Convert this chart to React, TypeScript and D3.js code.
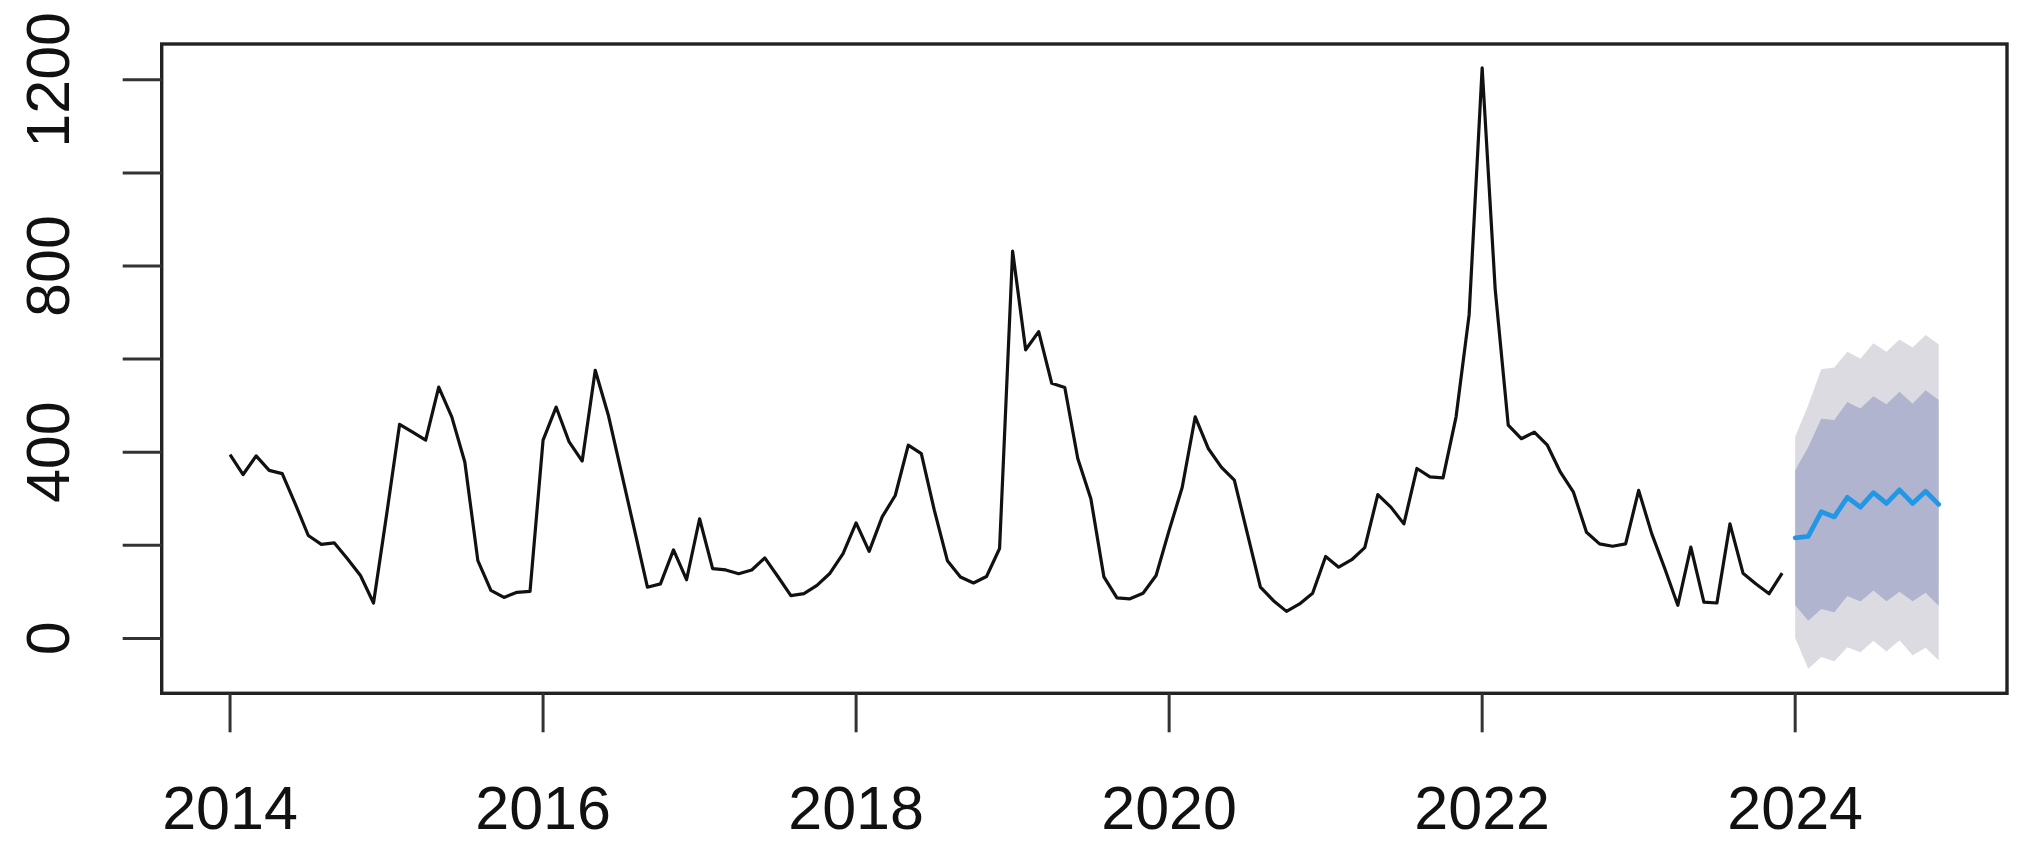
import React from "react";
import * as d3 from "d3";

// Monthly observations Jan 2014 .. Dec 2023
const startYear = 2014;
const observed: number[] = [
  395, 352, 392, 361, 354, 289, 221, 202, 205, 171, 135, 76,
  265, 460, 443, 426, 540, 476, 379, 167, 103, 88, 99, 101,
  426, 497, 422, 381, 576, 480, 357, 234, 110, 117, 190, 126,
  257, 150, 147, 139, 147, 173, 133, 92, 96, 114, 140, 182,
  248, 187, 261, 307, 415, 397, 275, 167, 132, 119, 133, 193,
  832, 620, 659, 548, 539, 386, 300, 132, 87, 85, 97, 135,
  232, 324, 476, 408, 368, 340, 225, 110, 81, 58, 74, 97,
  176, 153, 169, 195, 309, 282, 246, 365, 347, 345, 476, 695,
  1226, 750, 458, 429, 443, 415, 357, 314, 228, 203, 198, 203,
  318, 225, 150, 71, 196, 78, 76, 246, 140, 117, 96, 140,
];

// Forecast Jan 2024 .. Dec 2024
const fcMean: number[] = [216, 219, 272, 261, 303, 282, 313, 290, 319, 290, 316, 288];
const fcLo80: number[] = [71, 38, 63, 56, 91, 79, 103, 80, 100, 80, 98, 70];
const fcHi80: number[] = [361, 411, 472, 469, 508, 494, 520, 503, 530, 504, 533, 512];
const fcLo95: number[] = [1, -65, -40, -49, -19, -30, -5, -28, -4, -36, -20, -47];
const fcHi95: number[] = [433, 501, 578, 582, 616, 601, 634, 616, 642, 625, 652, 632];

const xTicks: number[] = [2014, 2016, 2018, 2020, 2022, 2024];
const yTicks: number[] = [0, 200, 400, 600, 800, 1000, 1200];
const yLabels: number[] = [0, 400, 800, 1200];

const W = 2020;
const H = 866;
const left = 161.7;
const right = 2007;
const top = 44;
const bottom = 693.3;

export default function App() {
  const obsT = observed.map((_, i) => startYear + i / 12);
  const fcT = fcMean.map((_, i) => startYear + (observed.length + i) / 12);
  const tMin = obsT[0];
  const tMax = fcT[fcT.length - 1];
  const pad = (tMax - tMin) * 0.04;

  const x = d3.scaleLinear().domain([tMin - pad, tMax + pad]).range([left, right]);
  const y = d3.scaleLinear().domain([-118, 1277]).range([bottom, top]);

  const line = d3
    .line<number>()
    .x((_, i) => x(obsT[i]))
    .y((d) => y(d));
  const fcLine = d3
    .line<number>()
    .x((_, i) => x(fcT[i]))
    .y((d) => y(d));
  const band = (lo: number[], hi: number[]) =>
    d3
      .area<number>()
      .x((_, i) => x(fcT[i]))
      .y0((_, i) => y(lo[i]))
      .y1((_, i) => y(hi[i]))(lo) as string;

  const font = "'Liberation Sans', Arial, Helvetica, sans-serif";
  const tickLen = 39;

  return (
    <svg
      width={W}
      height={H}
      style={{ position: "absolute", left: 0, top: 0, background: "#fff" }}
    >
      <rect x={0} y={0} width={W} height={H} fill="#fff" />
      <path d={band(fcLo95, fcHi95)} fill="#DBDBE1" stroke="none" />
      <path d={band(fcLo80, fcHi80)} fill="#B1B4CF" stroke="none" />
      <path
        d={line(observed) as string}
        fill="none"
        stroke="#111"
        strokeWidth={3.2}
        strokeLinejoin="round"
      />
      <path
        d={fcLine(fcMean) as string}
        fill="none"
        stroke="#2297E6"
        strokeWidth={4.8}
        strokeLinejoin="round"
        strokeLinecap="round"
      />
      <rect
        x={left}
        y={top}
        width={right - left}
        height={bottom - top}
        fill="none"
        stroke="#222"
        strokeWidth={3.4}
      />
      {xTicks.map((t) => (
        <g key={"x" + t}>
          <line
            x1={x(t)}
            x2={x(t)}
            y1={bottom}
            y2={bottom + tickLen}
            stroke="#333"
            strokeWidth={3}
          />
          <text
            x={x(t)}
            y={829}
            textAnchor="middle"
            fontFamily={font}
            fontSize={61}
            fill="#111"
          >
            {t}
          </text>
        </g>
      ))}
      {yTicks.map((v) => (
        <line
          key={"y" + v}
          x1={left - tickLen}
          x2={left}
          y1={y(v)}
          y2={y(v)}
          stroke="#333"
          strokeWidth={3}
        />
      ))}
      {yLabels.map((v) => (
        <text
          key={"yl" + v}
          transform={`translate(69,${y(v)}) rotate(-90)`}
          textAnchor="middle"
          fontFamily={font}
          fontSize={61}
          fill="#111"
        >
          {v}
        </text>
      ))}
    </svg>
  );
}
